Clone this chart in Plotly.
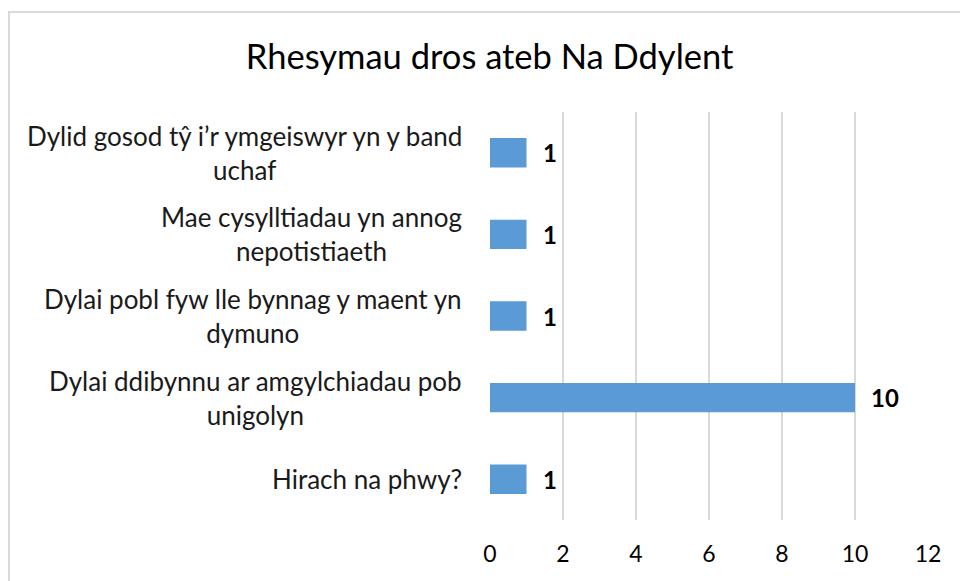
import plotly.graph_objects as go

reasons = [
    "Dylid gosod tŷ i’r ymgeiswyr yn y band<br>uchaf",
    "Mae cysylltiadau yn annog<br>nepotistiaeth",
    "Dylai pobl fyw lle bynnag y maent yn<br>dymuno",
    "Dylai ddibynnu ar amgylchiadau pob<br>unigolyn",
    "Hirach na phwy?",
]
counts = [1, 1, 1, 10, 1]
x_ticks = [0, 2, 4, 6, 8, 10, 12]

FONT = "Lato, Open Sans, sans-serif"
BLUE = "#5b9bd5"
GRID = "#d9d9d9"

fig = go.Figure()
fig.add_trace(go.Bar(
    x=counts,
    y=reasons,
    orientation="h",
    marker=dict(color=BLUE, line=dict(width=0)),
    hoverinfo="x+y",
))

# category labels, centred lines like the original
for r in reasons:
    fig.add_annotation(
        x=-0.059, xref="paper", y=r, yref="y",
        text=r, showarrow=False, xanchor="right", align="center",
        font=dict(family=FONT, size=26, color="#1a1a1a"),
    )

# value labels
for r, c in zip(reasons, counts):
    fig.add_annotation(
        x=c, y=r, text="<b>%d</b>" % c, showarrow=False,
        xanchor="left", xshift=14,
        font=dict(family=FONT, size=24, color="#000000"),
    )

fig.update_layout(
    width=960, height=581,
    margin=dict(l=490, r=32, t=112, b=61),
    paper_bgcolor="white", plot_bgcolor="white",
    bargap=0.64,
    showlegend=False,
    title=dict(text="Rhesymau dros ateb Na Ddylent", x=0.51, xref="container",
               xanchor="center",
               y=1 - 57 / 581, yref="container", yanchor="middle",
               font=dict(family=FONT, size=34.5, color="#000000")),
    font=dict(family=FONT),
)
fig.update_xaxes(
    range=[0, 12], tickvals=x_ticks, showgrid=True, gridcolor=GRID, gridwidth=2,
    zeroline=False, showline=False,
    ticks="outside", ticklen=13, tickcolor="rgba(0,0,0,0)",
    tickfont=dict(family=FONT, size=23, color="#000000"),
)
fig.update_yaxes(
    categoryorder="array", categoryarray=reasons[::-1],
    showticklabels=False, showgrid=False, zeroline=False, showline=False,
)

# outer chart border
fig.add_shape(type="rect", xref="paper", yref="paper",
              x0=-481 / 438, x1=1.2, y0=-0.3, y1=1 + 100 / 408,
              line=dict(color=GRID, width=2), fillcolor="rgba(0,0,0,0)")

fig.write_html("out.html", config={"displayModeBar": False},
               post_script="document.body.style.margin='0';")
